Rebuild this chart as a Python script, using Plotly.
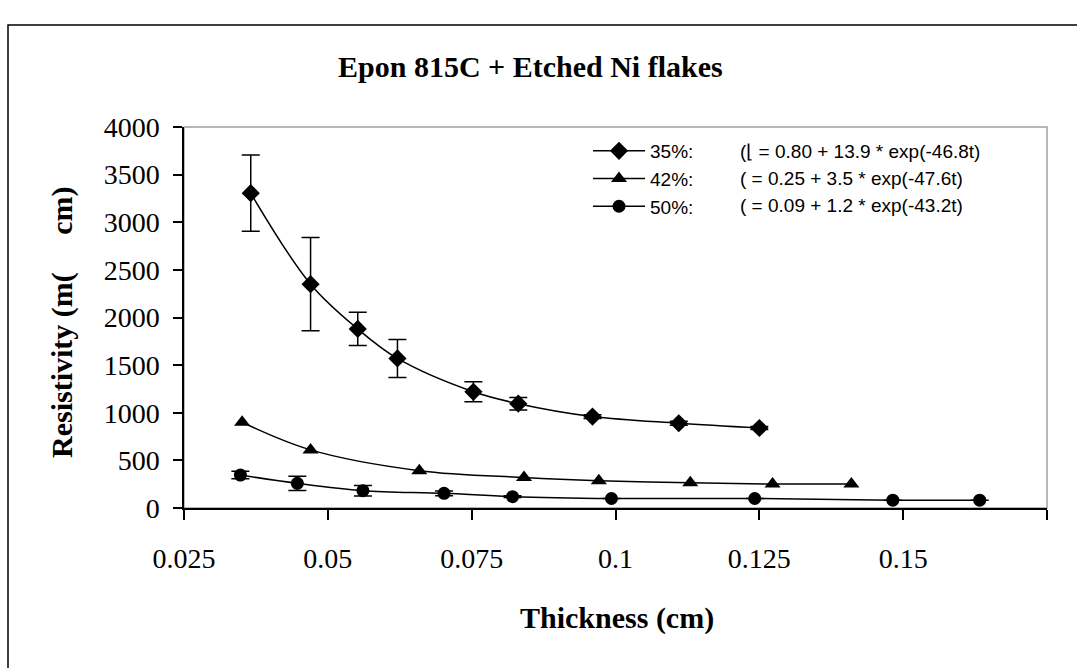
import plotly.graph_objects as go

# ---- data ----
t35 = [0.0366, 0.0470, 0.0552, 0.0621, 0.0753, 0.0831, 0.0960, 0.1110, 0.1250]
r35 = [3305, 2350, 1880, 1570, 1220, 1095, 960, 890, 840]
e35 = [400, 490, 175, 200, 105, 65, 20, 20, 15]

t42 = [0.0351, 0.0470, 0.0659, 0.0841, 0.0971, 0.1130, 0.1273, 0.1410]
r42 = [900, 610, 392, 320, 287, 266, 252, 252]

t50 = [0.0348, 0.0447, 0.0561, 0.0702, 0.0821, 0.0993, 0.1242, 0.1482, 0.1633]
r50 = [346, 259, 182, 154, 119, 100, 100, 82, 82]
e50 = [40, 75, 55, 25, 10, 0, 0, 0, 0]

series_names = ["35%:", "42%:", "50%:"]
equations = ["(\u230a = 0.80 + 13.9 * exp(-46.8t)",
             "( = 0.25 + 3.5 * exp(-47.6t)",
             "( = 0.09 + 1.2 * exp(-43.2t)"]

x_ticks = [0.025, 0.05, 0.075, 0.1, 0.125, 0.15, 0.175]
x_ticktext = ["0.025", "0.05", "0.075", "0.1", "0.125", "0.15", "0.175"]
y_ticks = [0, 500, 1000, 1500, 2000, 2500, 3000, 3500, 4000]

title_text = "Epon 815C + Etched Ni flakes"
xtitle_text = "Thickness (cm)"
ytitle_text = "Resistivity (m(" + "\u00a0" * 5 + "cm)"

SERIF = "Liberation Serif, Times New Roman, serif"
SANS = "Liberation Sans, Arial, sans-serif"

W, H = 1077, 668
L, R, T, B = 184, 30, 127, 160
PW = W - L - R
PH = H - T - B


def px_x(p):
    return (p - L) / PW


def px_y(p):
    return (H - B - p) / PH


fig = go.Figure()

line_style = dict(color="black", width=1.5, shape="spline", smoothing=1.0)
err_style = dict(type="data", visible=True, color="black", thickness=1.5, width=9)

fig.add_trace(go.Scatter(
    x=t35, y=r35, name=series_names[0], mode="lines+markers",
    line=line_style, marker=dict(symbol="diamond", size=14, color="black"),
    error_y=dict(array=e35, **err_style)))
fig.add_trace(go.Scatter(
    x=t42, y=r42, name=series_names[1], mode="lines+markers",
    line=line_style, marker=dict(symbol="triangle-up", size=14, color="black")))
fig.add_trace(go.Scatter(
    x=t50, y=r50, name=series_names[2], mode="lines+markers",
    line=line_style, marker=dict(symbol="circle", size=13, color="black"),
    error_y=dict(array=e50, **err_style)))

annotations = [
    dict(text="<b>" + title_text + "</b>", xref="paper", yref="paper",
         x=px_x(530), y=px_y(66), xanchor="center", yanchor="middle",
         showarrow=False, font=dict(family=SERIF, size=30, color="black")),
    dict(text="<b>" + xtitle_text + "</b>", xref="paper", yref="paper",
         x=px_x(617), y=px_y(618), xanchor="center", yanchor="middle",
         showarrow=False, font=dict(family=SERIF, size=30, color="black")),
    dict(text="<b>" + ytitle_text + "</b>", xref="paper", yref="paper",
         x=px_x(62), y=px_y(322), xanchor="center", yanchor="middle", textangle=-90,
         showarrow=False, font=dict(family=SERIF, size=30, color="black")),
]
row_y = [152, 178.5, 205]
for eq, ry in zip(equations, row_y):
    annotations.append(dict(text=eq, xref="paper", yref="paper",
                            x=px_x(738), y=px_y(ry), xanchor="left", yanchor="middle",
                            showarrow=False,
                            font=dict(family=SANS, size=19, color="black")))

shapes = [
    # plot-area border (grey)
    dict(type="rect", xref="paper", yref="paper", x0=0, x1=1, y0=0, y1=1,
         line=dict(color="#a0a0a0", width=1.5), layer="below"),
    # outer chart border
    dict(type="rect", xref="paper", yref="paper", x0=px_x(8), x1=px_x(1090),
         y0=px_y(690), y1=px_y(25), line=dict(color="black", width=1.5),
         layer="below"),
]

fig.update_layout(
    width=W, height=H,
    margin=dict(l=L, r=R, t=T, b=B, autoexpand=False),
    paper_bgcolor="white", plot_bgcolor="white",
    showlegend=True,
    legend=dict(x=px_x(588), y=px_y(132), xanchor="left", yanchor="top",
                bgcolor="rgba(0,0,0,0)", borderwidth=0,
                font=dict(family=SANS, size=19, color="black"),
                itemwidth=52, tracegroupgap=0, itemclick=False),
    annotations=annotations,
    shapes=shapes,
    xaxis=dict(range=[0.025, 0.175], tickmode="array", tickvals=x_ticks,
               ticktext=x_ticktext, showgrid=False, zeroline=False,
               showline=True, linecolor="black", linewidth=1.5,
               ticks="outside", ticklen=10, tickwidth=1.5, tickcolor="black",
               ticklabelstandoff=15,
               tickfont=dict(family=SERIF, size=28, color="black")),
    yaxis=dict(range=[0, 4000], tickmode="array", tickvals=y_ticks,
               showgrid=False, zeroline=False,
               showline=True, linecolor="black", linewidth=1.5,
               ticks="outside", ticklen=9, tickwidth=1.5, tickcolor="black",
               ticklabelstandoff=8,
               tickfont=dict(family=SERIF, size=28, color="black")),
)

fig.write_html("out.html")
